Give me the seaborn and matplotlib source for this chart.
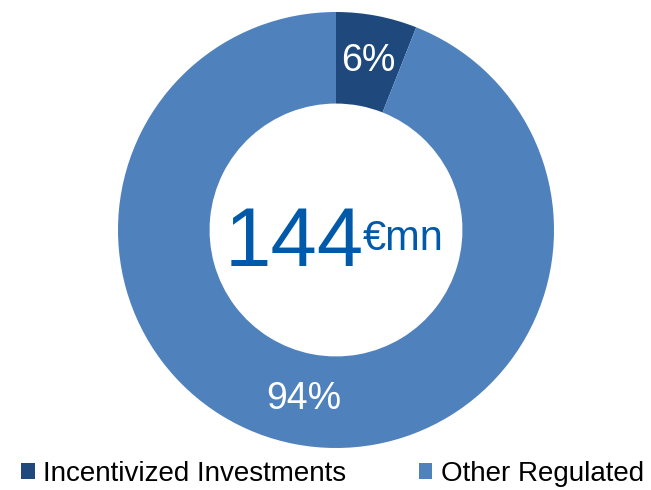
import matplotlib
matplotlib.use("Agg")
import matplotlib.pyplot as plt
import seaborn as sns

# Revenue split of the regulated business
categories = ["Incentivized Investments", "Other Regulated"]
shares = [6, 94]
total_value = "144"
total_unit = "€mn"

sns.set_theme(style="white")
plt.rcParams["font.family"] = ["Liberation Sans", "DejaVu Sans"]

colors = ["#1F497D", "#4F81BD"]
W, H = 651, 490
fig = plt.figure(figsize=(W / 100, H / 100), dpi=100)

cx, cy, r = 336, 230, 218
ax = fig.add_axes([(cx - r) / W, (H - cy - r) / H, 2 * r / W, 2 * r / H])

wedges, _, autotexts = ax.pie(
    shares,
    colors=colors,
    startangle=90,
    counterclock=False,
    radius=1.0,
    autopct="%.0f%%",
    pctdistance=0.79,
    wedgeprops=dict(width=0.42, linewidth=0),
    textprops=dict(color="white", fontsize=27),
)
ax.set_xlim(-1, 1)
ax.set_ylim(-1, 1)
ax.set_aspect("equal")
ax.axis("off")

# Total in the hole of the donut
fig.text(364 / W, 1 - 266 / H, total_value, ha="right", va="baseline",
         fontsize=60, color="#005AA9")
fig.text(363 / W, 1 - 250 / H, total_unit, ha="left", va="baseline",
         fontsize=30, color="#005AA9")

leg = fig.legend(
    wedges, categories,
    loc="lower left",
    bbox_to_anchor=(21 / W, 3 / H),
    ncol=2,
    frameon=False,
    fontsize=20,
    handlelength=0.5,
    handleheight=0.5,
    handletextpad=0.3,
    columnspacing=2.6,
    borderpad=0,
    borderaxespad=0,
)
for t in leg.get_texts():
    t.set_color("black")

fig.savefig("out.png", dpi=100)
